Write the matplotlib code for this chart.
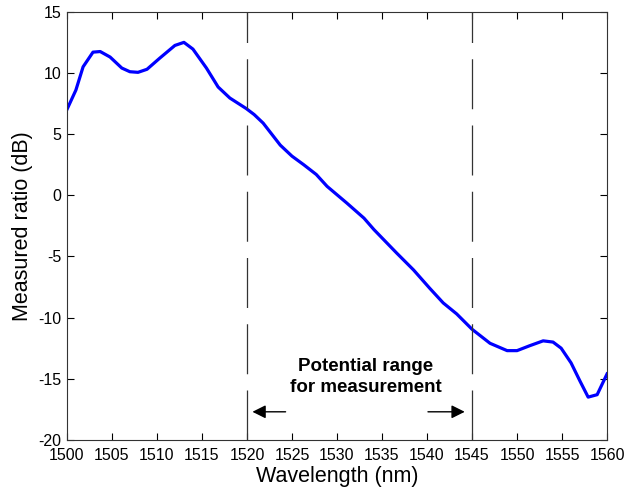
import matplotlib
matplotlib.use('Agg')
import matplotlib.pyplot as plt

plt.rcParams['font.family'] = ['Liberation Sans', 'DejaVu Sans']
plt.rcParams['axes.unicode_minus'] = False

# wavelength (nm) and measured ratio (dB)
wl = [1500, 1501, 1501.8, 1502.9, 1503.7, 1504.8, 1506.1, 1507, 1507.9, 1508.9,
      1510.3, 1512, 1513, 1514, 1515.5, 1516.8, 1518.1, 1519.9, 1520.8, 1521.8,
      1523.7, 1525, 1526.3, 1527.7, 1528.9, 1531.1, 1533, 1534.1, 1536.6, 1538.5,
      1540.3, 1541.8, 1543.3, 1545, 1547, 1548.9, 1550, 1551.4, 1552.9, 1554,
      1554.9, 1556, 1557, 1557.9, 1558.9, 1560]
ratio = [7.0, 8.6, 10.5, 11.7, 11.75, 11.3, 10.4, 10.1, 10.05, 10.3,
         11.2, 12.25, 12.5, 11.95, 10.4, 8.85, 7.95, 7.1, 6.6, 5.9,
         4.1, 3.2, 2.5, 1.7, 0.73, -0.64, -1.87, -2.8, -4.7, -6.1,
         -7.6, -8.8, -9.7, -10.95, -12.1, -12.7, -12.7, -12.3, -11.9, -12.0,
         -12.5, -13.7, -15.2, -16.5, -16.3, -14.6]

range_lo = 1520
range_hi = 1545
xticks = list(range(1500, 1561, 5))
yticks = list(range(-20, 16, 5))

fig = plt.figure(figsize=(6.37, 4.91), dpi=100)
ax = fig.add_axes([0.105, 0.104, 0.848, 0.872])

ax.plot(wl, ratio, color='#0000ff', lw=2.3)
for xv in (range_lo, range_hi):
    ax.axvline(xv, color='#333333', lw=0.9, ls=(0, (40, 13)))

ax.text(1533.2, -14.85, 'Potential range\nfor measurement', ha='center', va='center',
        fontsize=13.5, fontweight='bold', linespacing=1.25)
ax.annotate('', xy=(1520.3, -17.7), xytext=(1524.6, -17.7),
            arrowprops=dict(arrowstyle='-|>', color='black', lw=1.0, mutation_scale=20))
ax.annotate('', xy=(1544.5, -17.7), xytext=(1539.8, -17.7),
            arrowprops=dict(arrowstyle='-|>', color='black', lw=1.0, mutation_scale=20))

ax.set_xlim(1500, 1560)
ax.set_ylim(-20, 15)
ax.set_xticks(xticks)
ax.set_yticks(yticks)
ax.tick_params(direction='in', top=True, right=True, labelsize=11.5, length=5)
ax.tick_params(axis='x', pad=6)
ax.tick_params(axis='y', pad=4)
for s in ax.spines.values():
    s.set_color('#333333')
ax.set_xlabel('Wavelength (nm)', fontsize=15.5, labelpad=2)
ax.set_ylabel('Measured ratio (dB)', fontsize=15.5, labelpad=4)

fig.savefig('out.png', dpi=100)
